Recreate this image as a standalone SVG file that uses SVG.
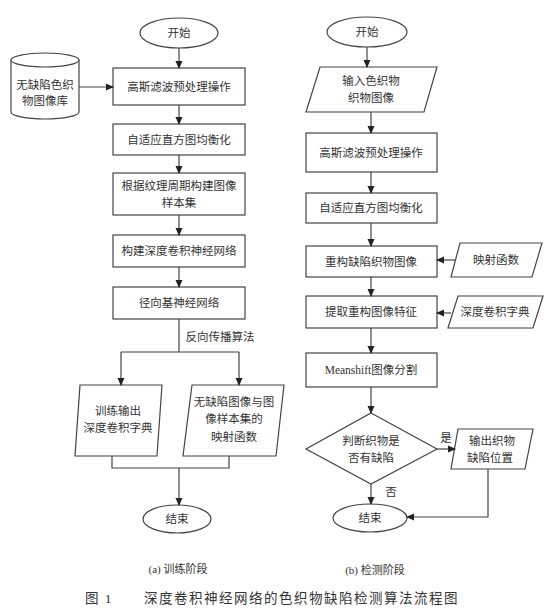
<svg xmlns="http://www.w3.org/2000/svg" width="550" height="614" viewBox="0 0 550 614">
<defs>
<marker id="ah" markerWidth="8" markerHeight="8" refX="7" refY="4" orient="auto" markerUnits="userSpaceOnUse">
<path d="M0,0.5 L8,4 L0,7.5 Z" fill="#222"/>
</marker>
<style>
.s{fill:#fff;stroke:#444;stroke-width:1.2}
.c{fill:none;stroke:#444;stroke-width:1.2}
.a{fill:none;stroke:#444;stroke-width:1.2;marker-end:url(#ah)}
text{font-family:"Liberation Serif","Noto Sans CJK SC",serif;font-size:11.5px;fill:#333;text-anchor:middle;dominant-baseline:central}
.cap{font-size:11px}
.title{font-size:13.5px;letter-spacing:1.5px;text-anchor:start}
</style>
</defs>
<rect width="550" height="614" fill="#fff"/>

<!-- Left column: training -->
<g id="a_start"><ellipse class="s" cx="179" cy="33" rx="39" ry="15"/><text x="179" y="33">开始</text></g>
<g id="a_db">
<path class="s" d="M11,60 L11,112 A34,7 0 0 0 79,112 L79,60"/>
<ellipse class="s" cx="45" cy="60" rx="34" ry="7"/>
<text x="45" y="85">无缺陷色织</text><text x="45" y="101">物图像库</text>
</g>
<g id="a_gauss"><rect class="s" x="113" y="68" width="132" height="37"/><text x="179" y="87">高斯滤波预处理操作</text></g>
<g id="a_hist"><rect class="s" x="113" y="124" width="132" height="31"/><text x="179" y="140">自适应直方图均衡化</text></g>
<g id="a_sample"><rect class="s" x="113" y="173" width="132" height="42"/><text x="179" y="186">根据纹理周期构建图像</text><text x="179" y="203">样本集</text></g>
<g id="a_cnn"><rect class="s" x="113" y="235" width="132" height="32"/><text x="179" y="251">构建深度卷积神经网络</text></g>
<g id="a_rbf"><rect class="s" x="113" y="287" width="132" height="32"/><text x="179" y="303">径向基神经网络</text></g>
<g id="a_dict"><polygon class="s" points="80,385 162,385 157,456 75,456"/><text x="118" y="411">训练输出</text><text x="118" y="428">深度卷积字典</text></g>
<g id="a_map"><polygon class="s" points="192,385 284,385 276,456 183,456"/><text x="234" y="402">无缺陷图像与图</text><text x="234" y="419">像样本集的</text><text x="234" y="437">映射函数</text></g>
<g id="a_end"><ellipse class="s" cx="177" cy="519" rx="34" ry="14"/><text x="177" y="519">结束</text></g>

<!-- Right column: detection -->
<g id="b_start"><ellipse class="s" cx="367" cy="32" rx="40" ry="15"/><text x="367" y="32">开始</text></g>
<g id="b_input"><polygon class="s" points="320,67 437,67 424,112 306,112"/><text x="371" y="81">输入色织物</text><text x="371" y="98">织物图像</text></g>
<g id="b_gauss"><rect class="s" x="306" y="133" width="131" height="39"/><text x="371" y="153">高斯滤波预处理操作</text></g>
<g id="b_hist"><rect class="s" x="306" y="193" width="131" height="30"/><text x="371" y="208">自适应直方图均衡化</text></g>
<g id="b_recon"><rect class="s" x="306" y="246" width="131" height="31"/><text x="371" y="262">重构缺陷织物图像</text></g>
<g id="b_mapf"><polygon class="s" points="460,243 542,243 532,277 451,277"/><text x="496" y="260">映射函数</text></g>
<g id="b_feat"><rect class="s" x="306" y="296" width="131" height="32"/><text x="371" y="312">提取重构图像特征</text></g>
<g id="b_dict"><polygon class="s" points="458,296 543,296 533,328 448,328"/><text x="495" y="312">深度卷积字典</text></g>
<g id="b_seg"><rect class="s" x="306" y="353" width="131" height="34"/><text x="371" y="370">Meanshift图像分割</text></g>
<g id="b_judge"><polygon class="s" points="371,413 437,449 371,484 306,449"/><text x="371" y="441">判断织物是</text><text x="371" y="458">否有缺陷</text></g>
<g id="b_out"><polygon class="s" points="458,429 533,429 525,469 451,469"/><text x="492" y="441">输出织物</text><text x="490" y="458">缺陷位置</text></g>
<g id="b_end"><ellipse class="s" cx="370" cy="518" rx="37" ry="14"/><text x="370" y="518">结束</text></g>

<g id="connectors">
<line class="a" x1="179" y1="48" x2="179" y2="68"/>
<line class="a" x1="79" y1="87" x2="113" y2="87"/>
<line class="a" x1="179" y1="105" x2="179" y2="124"/>
<line class="a" x1="179" y1="155" x2="179" y2="173"/>
<line class="a" x1="179" y1="215" x2="179" y2="235"/>
<line class="a" x1="179" y1="267" x2="179" y2="287"/>
<line class="c" x1="179" y1="319" x2="179" y2="352"/>
<line class="c" x1="121" y1="352" x2="239" y2="352"/>
<line class="a" x1="121" y1="352" x2="121" y2="385"/>
<line class="a" x1="239" y1="352" x2="239" y2="385"/>
<polyline class="c" points="112,456 112,468 229,468 229,456"/>
<line class="a" x1="179" y1="468" x2="179" y2="505"/>

<line class="a" x1="367" y1="47" x2="367" y2="67"/>
<line class="a" x1="371" y1="112" x2="371" y2="133"/>
<line class="a" x1="371" y1="172" x2="371" y2="193"/>
<line class="a" x1="371" y1="223" x2="371" y2="246"/>
<line class="a" x1="455" y1="260" x2="437" y2="260"/>
<line class="a" x1="371" y1="277" x2="371" y2="296"/>
<line class="a" x1="451" y1="313" x2="437" y2="313"/>
<line class="a" x1="371" y1="328" x2="371" y2="353"/>
<line class="a" x1="371" y1="387" x2="371" y2="413"/>
<line class="a" x1="437" y1="449" x2="455" y2="449"/>
<line class="a" x1="371" y1="484" x2="371" y2="504"/>
<polyline class="a" points="488,469 488,517 407,517"/>
</g>

<text x="220" y="337">反向传播算法</text>
<text x="446" y="438">是</text>
<text x="391" y="492">否</text>
<text class="cap" x="178" y="569">(a) 训练阶段</text>
<text class="cap" x="375" y="570">(b) 检测阶段</text>
<text class="title" x="85" y="598">图 1</text>
<text class="title" x="144" y="598">深度卷积神经网络的色织物缺陷检测算法流程图</text>
</svg>
